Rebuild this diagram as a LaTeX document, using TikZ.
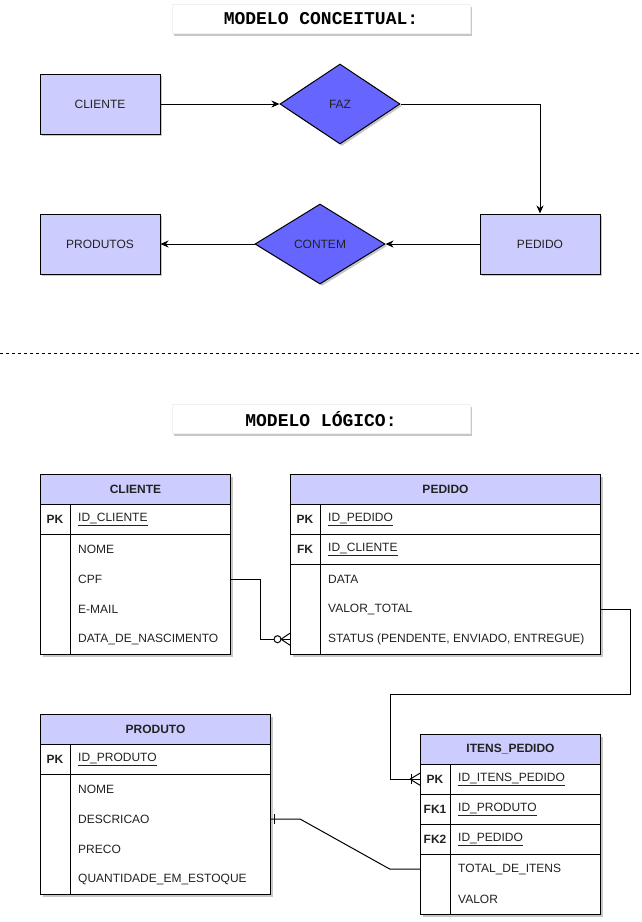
\documentclass[tikz,border=0pt]{standalone}
\usepackage{fontspec}
\setmainfont{Liberation Sans}
\newfontfamily\titlefont{Liberation Mono}
\usetikzlibrary{shapes.geometric,arrows.meta,shadows}
\definecolor{entfill}{HTML}{CCCCFF}
\definecolor{relfill}{HTML}{6666FF}
\definecolor{txt}{HTML}{222222}
\begin{document}
\begin{tikzpicture}[x=1pt,y=-1pt,
  every node/.style={font=\fontsize{12}{14}\selectfont, text=txt},
  shadowed/.style={drop shadow={shadow xshift=2pt,shadow yshift=-2pt,opacity=0.22,fill=black}},
  entity/.style={draw, line width=1pt, fill=entfill, minimum width=120pt, minimum height=60pt, inner sep=0pt, shadowed},
  relation/.style={diamond, aspect=1.5, draw, line width=1pt, fill=relfill, inner sep=0pt, shadowed},
  titlebox/.style={fill=white, draw=black!6, minimum width=298pt, minimum height=29pt, inner sep=0pt, shadowed,
     font=\titlefont\bfseries\fontsize{18}{20}\selectfont, text=black},
  arr/.style={-{Stealth[length=8pt,width=7pt,inset=2.5pt]}, line width=1pt},
  tbl/.style={draw, line width=1pt, fill=white, anchor=north west, inner sep=0pt, shadowed},
  hdr/.style={draw, line width=1pt, fill=entfill, anchor=north west, minimum height=30pt, inner sep=0pt, font=\bfseries\fontsize{12}{14}\selectfont},
  rowarea/.style={anchor=north west, minimum height=30pt, inner sep=0pt},
  keytxt/.style={font=\bfseries\fontsize{12}{14}\selectfont},
  fld/.style={anchor=west, inner sep=0pt},
  grid/.style={line width=1pt},
  conn/.style={line width=1pt},
]
\useasboundingbox (0,0) rectangle (642,922);

% ---------------- Conceptual model ----------------
\node[titlebox] (t1) at (321,19) {MODELO CONCEITUAL:};

\node[entity] (cli) at (100,104) {CLIENTE};
\node[relation, minimum width=120pt, minimum height=80pt] (faz) at (340,104) {FAZ};
\node[entity] (ped) at (540,244) {PEDIDO};
\node[relation, minimum width=130pt, minimum height=80pt] (contem) at (320,244) {CONTEM};
\node[entity] (prods) at (100,244) {PRODUTOS};

\draw[arr] (cli.east) -- (faz.west);
\draw[arr] (faz.east) -| (ped.north);
\draw[arr] (ped.west) -- (contem.east);
\draw[arr] (contem.west) -- (prods.east);

% separator
\coordinate (sepL) at (0,353);
\coordinate (sepR) at (642,353);
\draw[line width=1pt, dash pattern=on 3pt off 3pt] (sepL) -- (sepR);

% ---------------- Logical model ----------------
\node[titlebox] (t2) at (321,419) {MODELO LÓGICO:};

% CLIENTE table
\node[tbl, minimum width=190pt, minimum height=180pt] (tcli) at (40,474) {};
\node[hdr, minimum width=190pt] (tcliH) at (40,474) {CLIENTE};
\draw[grid] (40,534) -- (230,534);
\draw[grid] (70,504) -- (70,654);
\node[rowarea, minimum width=190pt] (cliPK) at (40,504) {};
\node[rowarea, minimum width=190pt] (cliCPF) at (40,564) {};
\node[keytxt] at (55,519) {PK};
\node[fld] at (78,519) {\underline{ID\_CLIENTE}};
\node[fld] at (78,549) {NOME};
\node[fld] at (78,579) {CPF};
\node[fld] at (78,609) {E-MAIL};
\node[fld] at (78,639) {DATA\_DE\_NASCIMENTO};

% PEDIDO table
\node[tbl, minimum width=310pt, minimum height=180pt] (tped) at (290,474) {};
\node[hdr, minimum width=310pt] (tpedH) at (290,474) {PEDIDO};
\draw[grid] (290,534) -- (600,534);
\draw[grid] (290,564) -- (600,564);
\draw[grid] (320,504) -- (320,654);
\node[rowarea, minimum width=310pt] (pedVALOR) at (290,594) {};
\node[rowarea, minimum width=310pt] (pedSTATUS) at (290,624) {};
\node[keytxt] at (305,519) {PK};
\node[keytxt] at (305,549) {FK};
\node[fld] at (328,519) {\underline{ID\_PEDIDO}};
\node[fld] at (328,549) {\underline{ID\_CLIENTE}};
\node[fld] at (328,579) {DATA};
\node[fld] at (328,609) {VALOR\_TOTAL};
\node[fld] at (328,639) {STATUS (PENDENTE, ENVIADO, ENTREGUE)};

% PRODUTO table
\node[tbl, minimum width=230pt, minimum height=180pt] (tprod) at (40,714) {};
\node[hdr, minimum width=230pt] (tprodH) at (40,714) {PRODUTO};
\draw[grid] (40,774) -- (270,774);
\draw[grid] (70,744) -- (70,894);
\node[rowarea, minimum width=230pt] (prodDESC) at (40,804) {};
\node[keytxt] at (55,759) {PK};
\node[fld] at (78,759) {\underline{ID\_PRODUTO}};
\node[fld] at (78,789) {NOME};
\node[fld] at (78,819) {DESCRICAO};
\node[fld] at (78,849) {PRECO};
\node[fld] at (78,879) {QUANTIDADE\_EM\_ESTOQUE};

% ITENS_PEDIDO table
\node[tbl, minimum width=180pt, minimum height=180pt] (tit) at (420,734) {};
\node[hdr, minimum width=180pt] (titH) at (420,734) {ITENS\_PEDIDO};
\draw[grid] (420,794) -- (600,794);
\draw[grid] (420,824) -- (600,824);
\draw[grid] (420,854) -- (600,854);
\draw[grid] (450,764) -- (450,914);
\node[rowarea, minimum width=180pt] (itPK) at (420,764) {};
\node[rowarea, minimum width=180pt] (itTOTAL) at (420,854) {};
\node[keytxt] at (435,779) {PK};
\node[keytxt] at (435,809) {FK1};
\node[keytxt] at (435,839) {FK2};
\node[fld] at (458,779) {\underline{ID\_ITENS\_PEDIDO}};
\node[fld] at (458,809) {\underline{ID\_PRODUTO}};
\node[fld] at (458,839) {\underline{ID\_PEDIDO}};
\node[fld] at (458,869) {TOTAL\_DE\_ITENS};
\node[fld] at (458,899) {VALOR};

% ---------------- Relationships ----------------
% CLIENTE.CPF -> PEDIDO (zero or many)
\draw[conn] (cliCPF.east) -- ++(30,0) |- ([xshift=-16pt]pedSTATUS.west);
\draw[conn] ([xshift=-9pt]pedSTATUS.west) -- (pedSTATUS.west);
\draw[conn] ([xshift=-9pt]pedSTATUS.west) -- ([yshift=6pt]pedSTATUS.west);
\draw[conn] ([xshift=-9pt]pedSTATUS.west) -- ([yshift=-6pt]pedSTATUS.west);
\draw[conn, fill=white] ([xshift=-12.5pt]pedSTATUS.west) circle (3.5pt);

% PEDIDO.VALOR_TOTAL -> ITENS_PEDIDO (one or many)
\draw[conn] (pedVALOR.east) -- ++(30,0) -- ++(0,85) -| ([xshift=-30pt]itPK.west) -- (itPK.west);
\draw[conn] ([xshift=-10pt]itPK.west) -- ([yshift=6pt]itPK.west);
\draw[conn] ([xshift=-10pt]itPK.west) -- ([yshift=-6pt]itPK.west);
\draw[conn] ([xshift=-9pt,yshift=5pt]itPK.west) -- ([xshift=-9pt,yshift=-5pt]itPK.west);

% PRODUTO.DESCRICAO -> ITENS_PEDIDO (one)
\draw[conn] (prodDESC.east) -- ++(30,0) -- ([xshift=-30pt]itTOTAL.west) -- (itTOTAL.west);
\draw[conn] ([xshift=4pt,yshift=5pt]prodDESC.east) -- ([xshift=4pt,yshift=-5pt]prodDESC.east);
\end{tikzpicture}
\end{document}
